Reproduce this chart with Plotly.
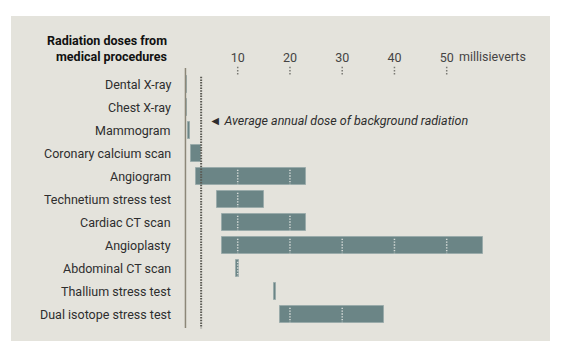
import plotly.graph_objects as go

# ---- data ----
procedures = ["Dental X-ray", "Chest X-ray", "Mammogram", "Coronary calcium scan",
              "Angiogram", "Technetium stress test", "Cardiac CT scan", "Angioplasty",
              "Abdominal CT scan", "Thallium stress test", "Dual isotope stress test"]
dose_low = [0.05, 0.1, 0.5, 1.0, 2.0, 6.0, 7.0, 7.0, 9.7, 16.9, 18.0]
dose_high = [0.25, 0.35, 0.9, 3.0, 23.0, 15.0, 23.0, 57.0, 10.3, 17.3, 38.0]
tick_values = [10, 20, 30, 40, 50]
tick_labels = ["10", "20", "30", "40", "50"]
unit_label = "millisieverts"
background_dose = 3.0
background_label = "\u25C4 Average annual dose of background radiation"
title_text = "Radiation doses from<br>medical procedures"

# ---- style ----
PANEL = "#e4e3dc"
BAR = "#6b8586"
BAR_EDGE = "#9aabaa"
FONT = "Roboto"
BAR_WIDTH = 0.726

# the page body has an 8px margin, so the figure is sized to the rest of the window
W, H = 555, 347
ML, MR, MT, MB = 3, 13, 8, 14
X_RANGE = [-33.39, 69.77]
Y_RANGE = [11.143, -2.987]


def row(py):
    # convert a window pixel row into category-index units (layout helper)
    return (py - 84.7) / 23.0


def paper_y(py):
    return (341.0 - py) / 325.0


fig = go.Figure()
fig.add_trace(go.Bar(
    y=procedures,
    x=[h - l for l, h in zip(dose_low, dose_high)],
    base=dose_low,
    orientation="h",
    width=BAR_WIDTH,
    marker=dict(color=BAR, line=dict(color=BAR_EDGE, width=1)),
    hoverinfo="skip",
))

shapes = []
# light dotted gridlines visible only across the bars
for i, (lo, hi) in enumerate(zip(dose_low, dose_high)):
    for tv in tick_values:
        if lo < tv < hi:
            shapes.append(dict(type="line", xref="x", yref="y", x0=tv, x1=tv,
                               y0=i - BAR_WIDTH / 2 + 0.06, y1=i + BAR_WIDTH / 2 - 0.04,
                               line=dict(color="#d6dbd8", width=1.5, dash="1.3px,1.5px")))
# vertical axis line
shapes.append(dict(type="line", xref="x", yref="y", x0=0, x1=0, y0=row(68), y1=row(328),
                   line=dict(color="#8c8778", width=1.5)))
# background radiation dotted line
shapes.append(dict(type="line", xref="x", yref="y", x0=background_dose, x1=background_dose,
                   y0=row(76.7), y1=row(328.3),
                   line=dict(color="#5a5a53", width=2, dash="1.5px,1.2px")))
# dotted tick marks
for tv in tick_values:
    shapes.append(dict(type="line", xref="x", yref="y", x0=tv, x1=tv, y0=row(66.7), y1=row(75.5),
                       line=dict(color="#7a7a74", width=1.5, dash="1.5px,1.7px")))

annotations = []
for name in procedures:
    annotations.append(dict(x=-2.33, y=name, xref="x", yref="y", text=name, showarrow=False,
                            xanchor="right", yanchor="middle",
                            font=dict(family=FONT, size=12.5, color="#2e2e2e")))
annotations.append(dict(x=-3.09, y=row(48.4), xref="x", yref="y", text="<b>" + title_text + "</b>",
                        showarrow=False, xanchor="right", yanchor="middle", align="right",
                        font=dict(family=FONT, size=12.5, color="#111111")))
annotations.append(dict(x=52.03, y=row(56.7), xref="x", yref="y", text=unit_label,
                        showarrow=False, xanchor="left", yanchor="middle",
                        font=dict(family=FONT, size=12.5, color="#444444")))
annotations.append(dict(x=4.07, y=row(120), xref="x", yref="y", text="<i>" + background_label + "</i>",
                        showarrow=False, xanchor="left", yanchor="middle",
                        font=dict(family=FONT, size=12.5, color="#2e2e2e")))

fig.update_layout(
    width=W, height=H,
    margin=dict(l=ML, r=MR, t=MT, b=MB, pad=0),
    paper_bgcolor="white",
    plot_bgcolor=PANEL,
    showlegend=False,
    bargap=0,
    shapes=shapes,
    annotations=annotations,
    xaxis=dict(range=X_RANGE, side="top", anchor="free", position=paper_y(64),
               tickvals=tick_values, ticktext=tick_labels, ticks="",
               tickfont=dict(family=FONT, size=12.5, color="#444444"),
               showgrid=False, zeroline=False, showline=False, fixedrange=True),
    yaxis=dict(type="category", categoryorder="array", categoryarray=procedures,
               range=Y_RANGE, showticklabels=False, showgrid=False, zeroline=False,
               showline=False, ticks="", fixedrange=True),
)

fig.write_html("out.html")
